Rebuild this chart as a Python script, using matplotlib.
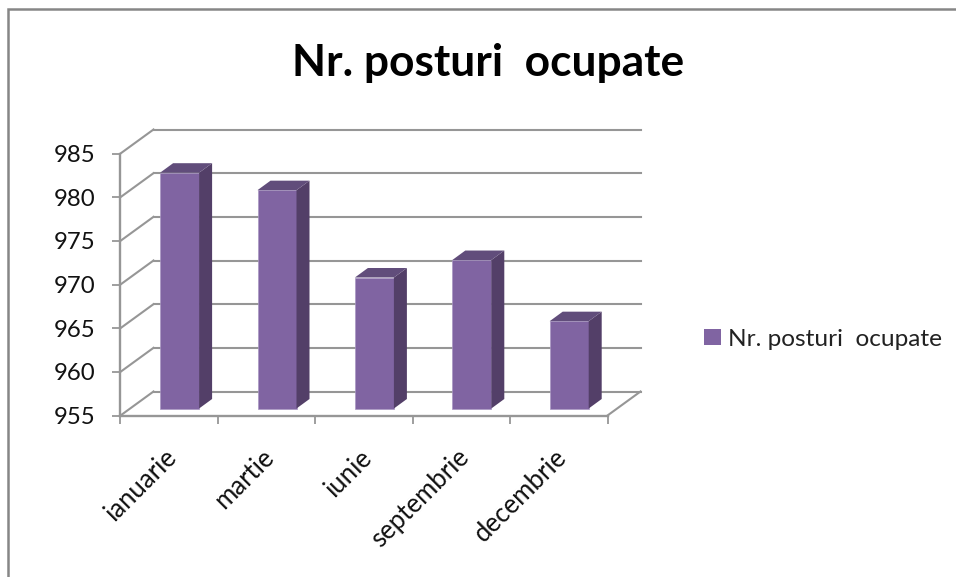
import matplotlib
matplotlib.use("Agg")
import matplotlib.pyplot as plt
from matplotlib.patches import Polygon, Patch, Rectangle

plt.rcParams['font.family'] = ['Lato', 'DejaVu Sans']

months = ["ianuarie", "martie", "iunie", "septembrie", "decembrie"]
posts = [982, 980, 970, 972, 965]
y_ticks = [955, 960, 965, 970, 975, 980, 985]
title = "Nr. posturi  ocupate"
series_name = "Nr. posturi  ocupate"

W, H = 956, 577
fig = plt.figure(figsize=(W / 100, H / 100), dpi=100, facecolor="white")

# front plane of the pseudo-3D box, in pixels
L, R, T, B = 120.5, 607.5, 153.5, 415.5
ax = fig.add_axes([L / W, 1 - B / H, (R - L) / W, (B - T) / H])
ax.set_xlim(0, len(months))
ax.set_ylim(y_ticks[0], y_ticks[-1])
ax.patch.set_visible(False)

px_x = len(months) / (R - L)      # data units per pixel
px_y = (y_ticks[-1] - y_ticks[0]) / (B - T)

GRID = "#969696"
LW = 1.5

# depth offsets in data units
back_dx, back_dy = 33 * px_x, 24 * px_y
front_dx, front_dy = 10.4 * px_x, 7 * px_y
side_dx, side_dy = 13 * px_x, 9.5 * px_y
bar_w = 39 * px_x

# walls
for t in y_ticks:
    ax.plot([0, back_dx], [t, t + back_dy], color=GRID, lw=LW, clip_on=False, zorder=1)
    ax.plot([back_dx, len(months) + back_dx], [t + back_dy] * 2, color=GRID, lw=LW,
            clip_on=False, zorder=1)
ax.plot([len(months), len(months) + back_dx], [y_ticks[0], y_ticks[0] + back_dy],
        color=GRID, lw=LW, clip_on=False, zorder=1)

# bars
FRONT, SIDE, TOP = "#8064a2", "#533f68", "#614d7b"
base = y_ticks[0] + front_dy
for i, v in enumerate(posts):
    x0 = i + 0.5 + front_dx - bar_w / 2
    x1 = x0 + bar_w
    top = v + front_dy
    ax.bar(x0, v - y_ticks[0], width=bar_w, bottom=base, align="edge", color=FRONT,
           edgecolor="#a996c2", linewidth=0.5, clip_on=False, zorder=3)
    ax.add_patch(Polygon([(x1, base), (x1 + side_dx, base + side_dy),
                          (x1 + side_dx, top + side_dy), (x1, top)],
                         closed=True, facecolor=SIDE, edgecolor="none",
                         clip_on=False, zorder=3))
    ax.add_patch(Polygon([(x0, top), (x0 + side_dx, top + side_dy),
                          (x1 + side_dx, top + side_dy), (x1, top)],
                         closed=True, facecolor=TOP, edgecolor="none",
                         clip_on=False, zorder=3))

# axes
for s in ("top", "right"):
    ax.spines[s].set_visible(False)
for s in ("left", "bottom"):
    ax.spines[s].set_color(GRID)
    ax.spines[s].set_linewidth(1.7)
    ax.spines[s].set_zorder(2)

ax.set_yticks(y_ticks)
ax.tick_params(axis="y", length=5.8, width=1.3, color=GRID, labelsize=17.3,
               labelcolor="#111111", pad=12)
ax.set_xticks(range(len(months) + 1))
ax.set_xticklabels([])
ax.tick_params(axis="x", which="major", length=5.5, width=1.3, color=GRID)
ax.set_xticks([i + 0.45 for i in range(len(months))], minor=True)
ax.set_xticklabels(months, minor=True, rotation=45, ha="right", va="top",
                   rotation_mode="anchor", fontsize=18.5, color="#111111")
ax.tick_params(axis="x", which="minor", length=0, pad=21)

# title and legend
fig.text(488.5 / W, 1 - 63 / H, title, ha="center", va="center", fontsize=31.9,
         fontweight="bold", color="black")
fig.legend(handles=[Patch(facecolor=FRONT, edgecolor="none", label=series_name)],
           loc="center left", bbox_to_anchor=(704 / W, 1 - 339 / H), frameon=False,
           fontsize=17.6, handlelength=0.68, handleheight=0.68, handletextpad=0.3,
           borderpad=0, borderaxespad=0, labelcolor="#222222")

# outer chart frame: only its top and left edges fall inside the picture
fig.add_artist(Rectangle((7.5 / W, -0.05), 1.1, 1 - 8.5 / H + 0.05, transform=fig.transFigure,
                         facecolor="none", edgecolor="#868686", linewidth=1.8))

fig.savefig("out.png", dpi=100)
